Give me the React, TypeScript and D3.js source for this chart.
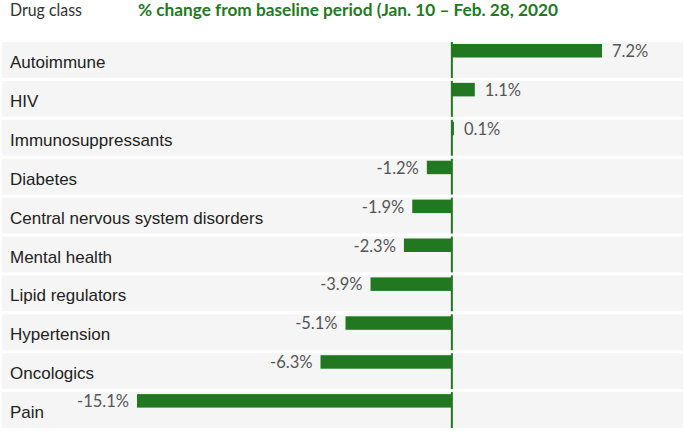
import React from "react";
import * as d3 from "d3";

const categories = [
  "Autoimmune",
  "HIV",
  "Immunosuppressants",
  "Diabetes",
  "Central nervous system disorders",
  "Mental health",
  "Lipid regulators",
  "Hypertension",
  "Oncologics",
  "Pain",
];
const values = [7.2, 1.1, 0.1, -1.2, -1.9, -2.3, -3.9, -5.1, -6.3, -15.1];
const headerLeft = "Drug class";
const headerRight = "% change from baseline period (Jan. 10 \u2013 Feb. 28, 2020";

const W = 685;
const H = 435;
const GREEN = "#217821";

export default function App() {
  const x = d3.scaleLinear().domain([-15.1, 7.2]).range([137, 602]);
  const y = d3
    .scaleBand<string>()
    .domain(categories)
    .range([42, 42 + 38.9 * categories.length])
    .paddingInner(0.075)
    .paddingOuter(0.0375);
  const step = y.step();
  const x0 = x(0);

  return (
    <svg
      width={W}
      height={H}
      style={{ position: "absolute", left: 0, top: 0, background: "#fff" }}
    >
      <text x={10} y={16} fontFamily="Lato, 'Open Sans', sans-serif" fontSize={17.5} fill="#333" textLength={72} lengthAdjust="spacingAndGlyphs">
        {headerLeft}
      </text>
      <text x={138} y={16} fontFamily="Lato, 'Open Sans', sans-serif" fontWeight="bold" fontSize={17.5} fill="#1f7a1f" textLength={420} lengthAdjust="spacingAndGlyphs">
        {headerRight}
      </text>
      {categories.map((c, i) => {
        const top = 42 + step * i;
        const rowH = step - 3;
        const v = values[i];
        const bx = Math.min(x(v), x0);
        const bw = Math.abs(x(v) - x0);
        return (
          <g key={c}>
            <rect x={2} y={top} width={681} height={rowH} fill="#f5f5f5" />
            <rect x={bx} y={top + 2} width={Math.max(bw, 1)} height={13.5} fill={GREEN} />
            <line x1={x0} x2={x0} y1={top} y2={top + rowH} stroke={GREEN} strokeWidth={2} />
            <text x={10} y={top + 26} fontFamily="'Liberation Sans', Arial, sans-serif" fontSize={17} fill="#222">
              {c}
            </text>
            <text
              x={v >= 0 ? x(v) + 10 : x(v) - 8}
              y={top + 15}
              textAnchor={v >= 0 ? "start" : "end"}
              fontFamily="Lato, 'Open Sans', sans-serif"
              fontSize={16.5}
              fill="#555"
            >
              {`${v.toFixed(1)}%`}
            </text>
          </g>
        );
      })}
    </svg>
  );
}
